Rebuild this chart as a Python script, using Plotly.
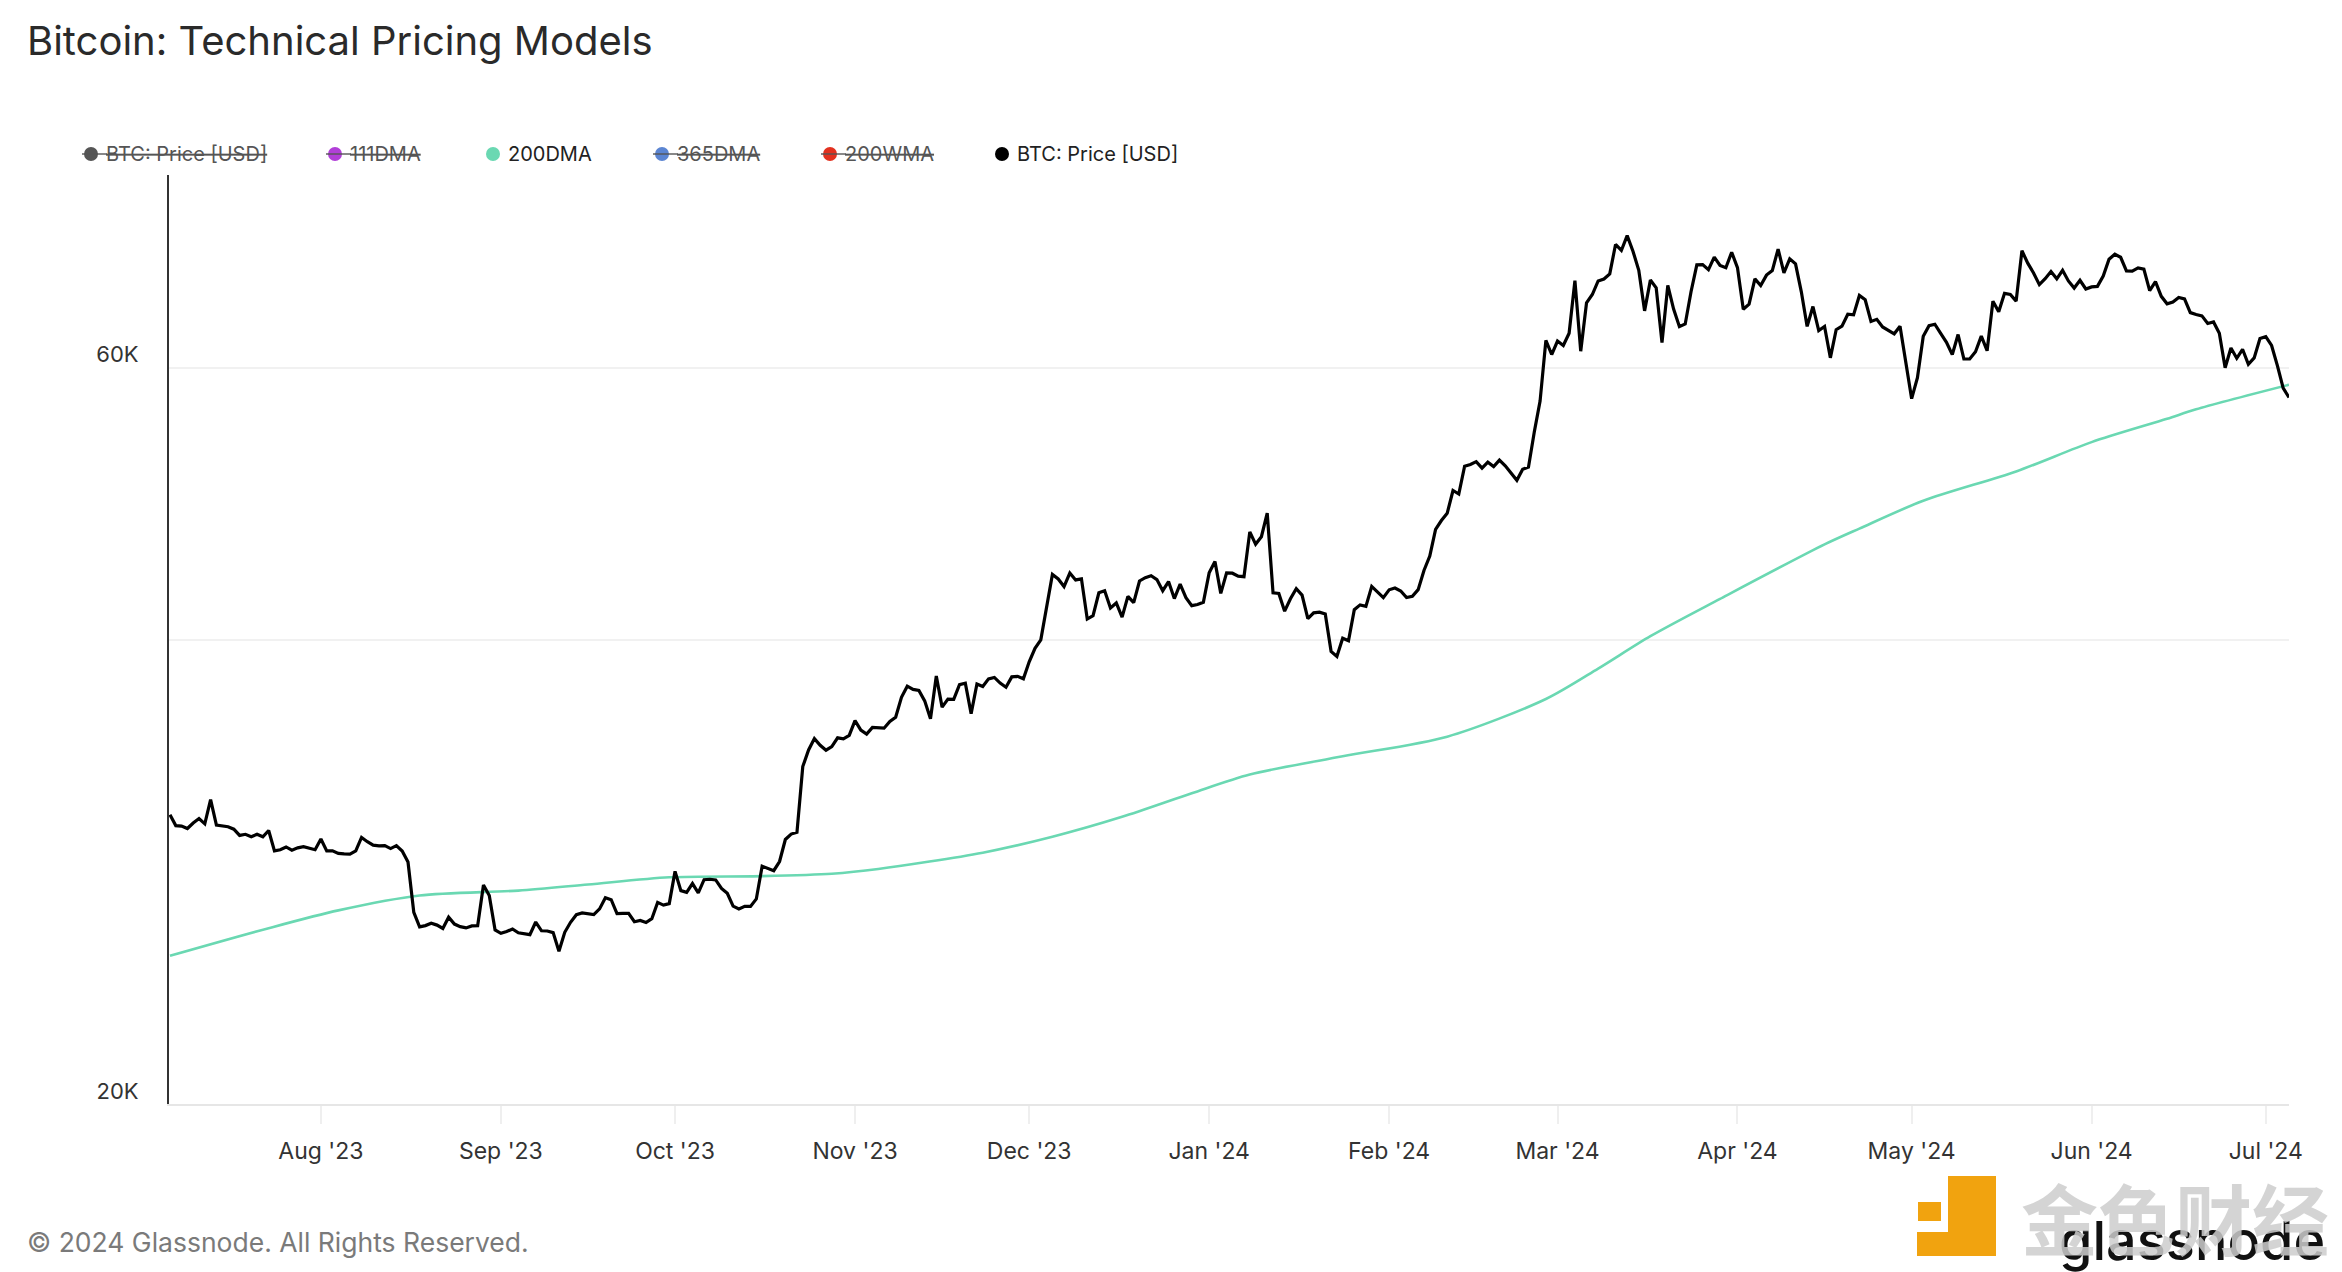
import math
import pandas as pd
import plotly.graph_objects as go

# ---------------- data ----------------
START_DATE = "2023-07-06"

price_jul23 = [30800, 30300, 30280, 30170, 30420, 30620, 30380, 31500, 30320, 30290,
               30250, 30140, 29860, 29910, 29800, 29910, 29800, 30080, 29180, 29230,
               29350, 29210, 29310, 29360, 29280, 29230]
price_aug23 = [29700, 29180, 29180, 29070, 29050, 29040, 29180, 29770, 29580, 29430,
               29400, 29410, 29280, 29410, 29170, 28700, 26620, 26050, 26100, 26190,
               26120, 25990, 26430, 26160, 26060, 26010, 26090, 26100, 27730, 27300,
               25930]
price_sep23 = [25800, 25870, 25970, 25820, 25790, 25750, 26240, 25900, 25890, 25830,
               25120, 25840, 26230, 26530, 26600, 26570, 26530, 26760, 27210, 27130,
               26570, 26580, 26580, 26250, 26300, 26220, 26370, 27020, 26910, 26970]
price_oct23 = [28300, 27500, 27430, 27790, 27410, 27950, 27970, 27940, 27590, 27390,
               26870, 26760, 26860, 26860, 27160, 28520, 28420, 28330, 28720, 29680,
               29920, 30000, 33090, 33920, 34500, 34160, 33910, 34090, 34540, 34490,
               34670]
price_nov23 = [35440, 34940, 34730, 35080, 35050, 35040, 35400, 35620, 36690, 37310,
               37130, 37070, 36500, 35540, 37880, 36160, 36600, 36580, 37390, 37470,
               35810, 37430, 37290, 37720, 37800, 37480, 37250, 37830, 37860, 37720]
price_dec23 = [38690, 39480, 39980, 41980, 44080, 43780, 43290, 44170, 43720, 43790,
               41240, 41450, 42890, 43020, 41930, 42240, 41360, 42660, 42260, 43650,
               43870, 43990, 43740, 43020, 43610, 42520, 43440, 42580, 42070, 42140,
               42280]
price_jan24 = [44180, 44940, 42850, 44180, 44160, 43970, 43930, 46970, 46110, 46630,
               48300, 42890, 42850, 41730, 42510, 43150, 42740, 41260, 41620, 41660,
               41550, 39300, 39000, 40080, 39930, 41820, 42120, 42030, 43300, 42940,
               42580]
price_feb24 = [43080, 43190, 43000, 42580, 42660, 43090, 44340, 45300, 47150, 47770,
               48290, 49960, 49700, 51800, 51940, 52160, 51660, 52120, 51780, 52280,
               51840, 51300, 50730, 51570, 51730, 54520, 57090, 62500, 61200]
price_mar24 = [62440, 62030, 63170, 68330, 61500, 66110, 66930, 68300, 68500, 69020,
               72120, 71480, 73080, 71400, 69400, 65320, 68390, 67600, 62300, 67840,
               65500, 63800, 64050, 67210, 69960, 69990, 69460, 70780, 69900, 69660,
               71290]
price_apr24 = [69670, 65480, 65970, 68510, 67840, 68900, 69360, 71630, 69140, 70590,
               70060, 67200, 63820, 65740, 63430, 63810, 60900, 63510, 63840, 64990,
               64930, 66840, 66410, 64300, 64500, 63770, 63460, 63120, 63840, 60610]
price_may24 = [57300, 59120, 62890, 63890, 64030, 63160, 62330, 61190, 63050, 60790,
               60790, 61450, 62900, 61550, 66270, 65230, 67050, 66940, 66280, 71450,
               70140, 69120, 67930, 68530, 69270, 68520, 69390, 68300, 67580, 68360,
               67490]
price_jun24 = [67700, 67750, 68800, 70550, 71080, 70760, 69340, 69310, 69650, 69510,
               67320, 68240, 66750, 66010, 66190, 66640, 66490, 65150, 64960, 64830,
               64100, 64250, 63180, 60000, 61800, 60860, 61680, 60320, 60890, 62680]
price_jul24 = [62850, 62030, 60200, 58200, 57400]

price = (price_jul23 + price_aug23 + price_sep23 + price_oct23 + price_nov23 +
         price_dec23 + price_jan24 + price_feb24 + price_mar24 + price_apr24 +
         price_may24 + price_jun24 + price_jul24)
price_dates = pd.date_range(START_DATE, periods=len(price), freq="D")

dma200_dates = ["2023-07-06", "2023-07-23", "2023-08-04", "2023-08-18", "2023-09-04",
                "2023-09-16", "2023-09-30", "2023-10-16", "2023-10-28", "2023-11-05",
                "2023-11-23", "2023-12-05", "2023-12-17", "2023-12-29", "2024-01-08",
                "2024-01-24", "2024-02-11", "2024-02-28", "2024-03-08", "2024-03-17",
                "2024-03-29", "2024-04-16", "2024-04-22", "2024-05-03", "2024-05-19",
                "2024-06-01", "2024-06-14", "2024-06-19", "2024-07-05"]
dma200_values = [24950, 26000, 26700, 27300, 27500,
                 27750, 28050, 28100, 28200, 28400,
                 29100, 29800, 30700, 31800, 32700,
                 33600, 34600, 36600, 38300, 40200,
                 42500, 46100, 47200, 49200, 51400,
                 53700, 55600, 56400, 58500]

y_tick_vals = [20000, 40000, 60000, 80000]
y_tick_text = ["20K", "", "60K", ""]
x_tick_vals = pd.date_range("2023-08-01", "2024-07-01", freq="MS")
x_tick_text = [d.strftime("%b '%y") for d in x_tick_vals]

legend_items = [
    # label, marker color, text color, struck through
    ("BTC: Price [USD]", "#555555", "#555555", True),
    ("111DMA", "#b13fd8", "#555555", True),
    ("200DMA", "#6ad8b2", "#222222", False),
    ("365DMA", "#5b85d2", "#555555", True),
    ("200WMA", "#e2311f", "#555555", True),
    ("BTC: Price [USD]", "#000000", "#222222", False),
]
legend_marker_px = [91, 335, 493, 662, 830, 1002]

# ---------------- layout geometry ----------------
# the page body adds an 8px offset; the figure is sized to fit inside the window
OFF = 8
W, H = 2342 - OFF, 1272 - OFF
PX0, PX1 = 169 - OFF, 2289 - OFF
PY0, PY1 = 175 - OFF, 1104 - OFF
L, R, T, B = PX0, W - PX1, PY0, H - PY1


def px_to_paper(px, py):
    """Reference-image pixel position -> paper coordinates."""
    px, py = px - OFF, py - OFF
    return (px - PX0) / (PX1 - PX0), (PY1 - py) / (PY1 - PY0)


FONT = "Inter, Roboto, sans-serif"

fig = go.Figure()
fig.add_trace(go.Scatter(
    x=pd.to_datetime(dma200_dates), y=dma200_values, mode="lines", name="200DMA",
    line=dict(color="#6ad8b2", width=2.6, shape="spline", smoothing=0.8),
    showlegend=False, hoverinfo="skip"))
fig.add_trace(go.Scatter(
    x=price_dates, y=price, mode="lines", name="BTC: Price [USD]",
    line=dict(color="#000000", width=3.2),
    showlegend=False))

annotations = []
shapes = []

# custom legend
LEG_Y = 154
for (label, mcol, tcol, struck), mx in zip(legend_items, legend_marker_px):
    _, ly = px_to_paper(0, LEG_Y)
    mxp, _ = px_to_paper(mx, 0)
    shapes.append(dict(type="circle", xref="paper", yref="paper",
                       xsizemode="pixel", ysizemode="pixel",
                       xanchor=mxp, yanchor=ly, x0=-7, x1=7, y0=-7, y1=7,
                       fillcolor=mcol, line=dict(width=0), layer="above"))
    tx, _ = px_to_paper(mx + 13, 0)
    font = dict(family=FONT, size=20, color=tcol)
    if struck:
        font["lineposition"] = "through"
        sx0, _ = px_to_paper(mx - 9, 0)
        sx1, _ = px_to_paper(mx + 16, 0)
        shapes.append(dict(type="line", xref="paper", yref="paper",
                           x0=sx0, x1=sx1, y0=ly, y1=ly,
                           line=dict(color="#555555", width=1.4), layer="above"))
    annotations.append(dict(text=label, xref="paper", yref="paper", x=tx, y=ly,
                            xanchor="left", yanchor="middle", showarrow=False,
                            font=font))

# copyright
cx, cy = px_to_paper(25, 1242)
annotations.append(dict(text="© 2024 Glassnode. All Rights Reserved.", xref="paper",
                        yref="paper", x=cx, y=cy, xanchor="left", yanchor="middle",
                        showarrow=False, font=dict(family=FONT, size=26.5, color="#7a7a7a")))

# glassnode wordmark
gx, gy = px_to_paper(2192, 1240)
annotations.append(dict(text="glassnode", xref="paper", yref="paper", x=gx, y=gy,
                        xanchor="center", yanchor="middle", showarrow=False,
                        font=dict(family=FONT, size=54, color="#111111", weight=500)))


# watermark logo
def rect_px(x0, y0, x1, y1, color):
    a0, b0 = px_to_paper(x0, y0)
    a1, b1 = px_to_paper(x1, y1)
    return dict(type="rect", xref="paper", yref="paper", x0=a0, x1=a1, y0=b1, y1=b0,
                fillcolor=color, line=dict(width=0), layer="above")


ORANGE = "#f1a30f"
shapes.append(rect_px(1948, 1176, 1996, 1256, ORANGE))
shapes.append(rect_px(1917, 1232, 1996, 1256, ORANGE))
shapes.append(rect_px(1918, 1202, 1941, 1221, ORANGE))

wx, wy = px_to_paper(2175, 1216)
annotations.append(dict(text="金色财经", xref="paper", yref="paper", x=wx, y=wy,
                        xanchor="center", yanchor="middle", showarrow=False,
                        font=dict(family="Noto Sans CJK SC", size=77,
                                  color="rgba(205,205,205,0.85)", weight=700)))

fig.update_layout(
    width=W, height=H,
    margin=dict(l=L, r=R, t=T, b=B, pad=0),
    paper_bgcolor="white", plot_bgcolor="white",
    font=dict(family=FONT, color="#333333"),
    title=dict(text="Bitcoin: Technical Pricing Models", x=(27 - OFF) / W, xref="container",
               y=1 - (41 - OFF) / H, yref="container", xanchor="left", yanchor="middle",
               font=dict(family=FONT, size=40, color="#2a2a2a")),
    showlegend=False,
    annotations=annotations,
    shapes=shapes,
    xaxis=dict(type="date", range=["2023-07-05 20:00", "2024-07-05 00:00"],
               tickvals=x_tick_vals, ticktext=x_tick_text,
               showgrid=False, showline=True, linecolor="#e6e6e6", linewidth=2,
               ticks="outside", ticklen=18, tickwidth=1.5, tickcolor="#efefef",
               ticklabelstandoff=7,
               tickfont=dict(family=FONT, size=23, color="#333333"), zeroline=False),
    yaxis=dict(type="log", range=[math.log10(20000), math.log10(80000)],
               tickvals=y_tick_vals, ticktext=y_tick_text,
               showgrid=True, gridcolor="#f1f1f1", gridwidth=1.5,
               showline=True, linecolor="#333333", linewidth=2,
               ticks="", ticklabelstandoff=24, ticklabelshift=-13,
               tickfont=dict(family=FONT, size=22, color="#333333"), zeroline=False),
)

fig.write_html("out.html")
